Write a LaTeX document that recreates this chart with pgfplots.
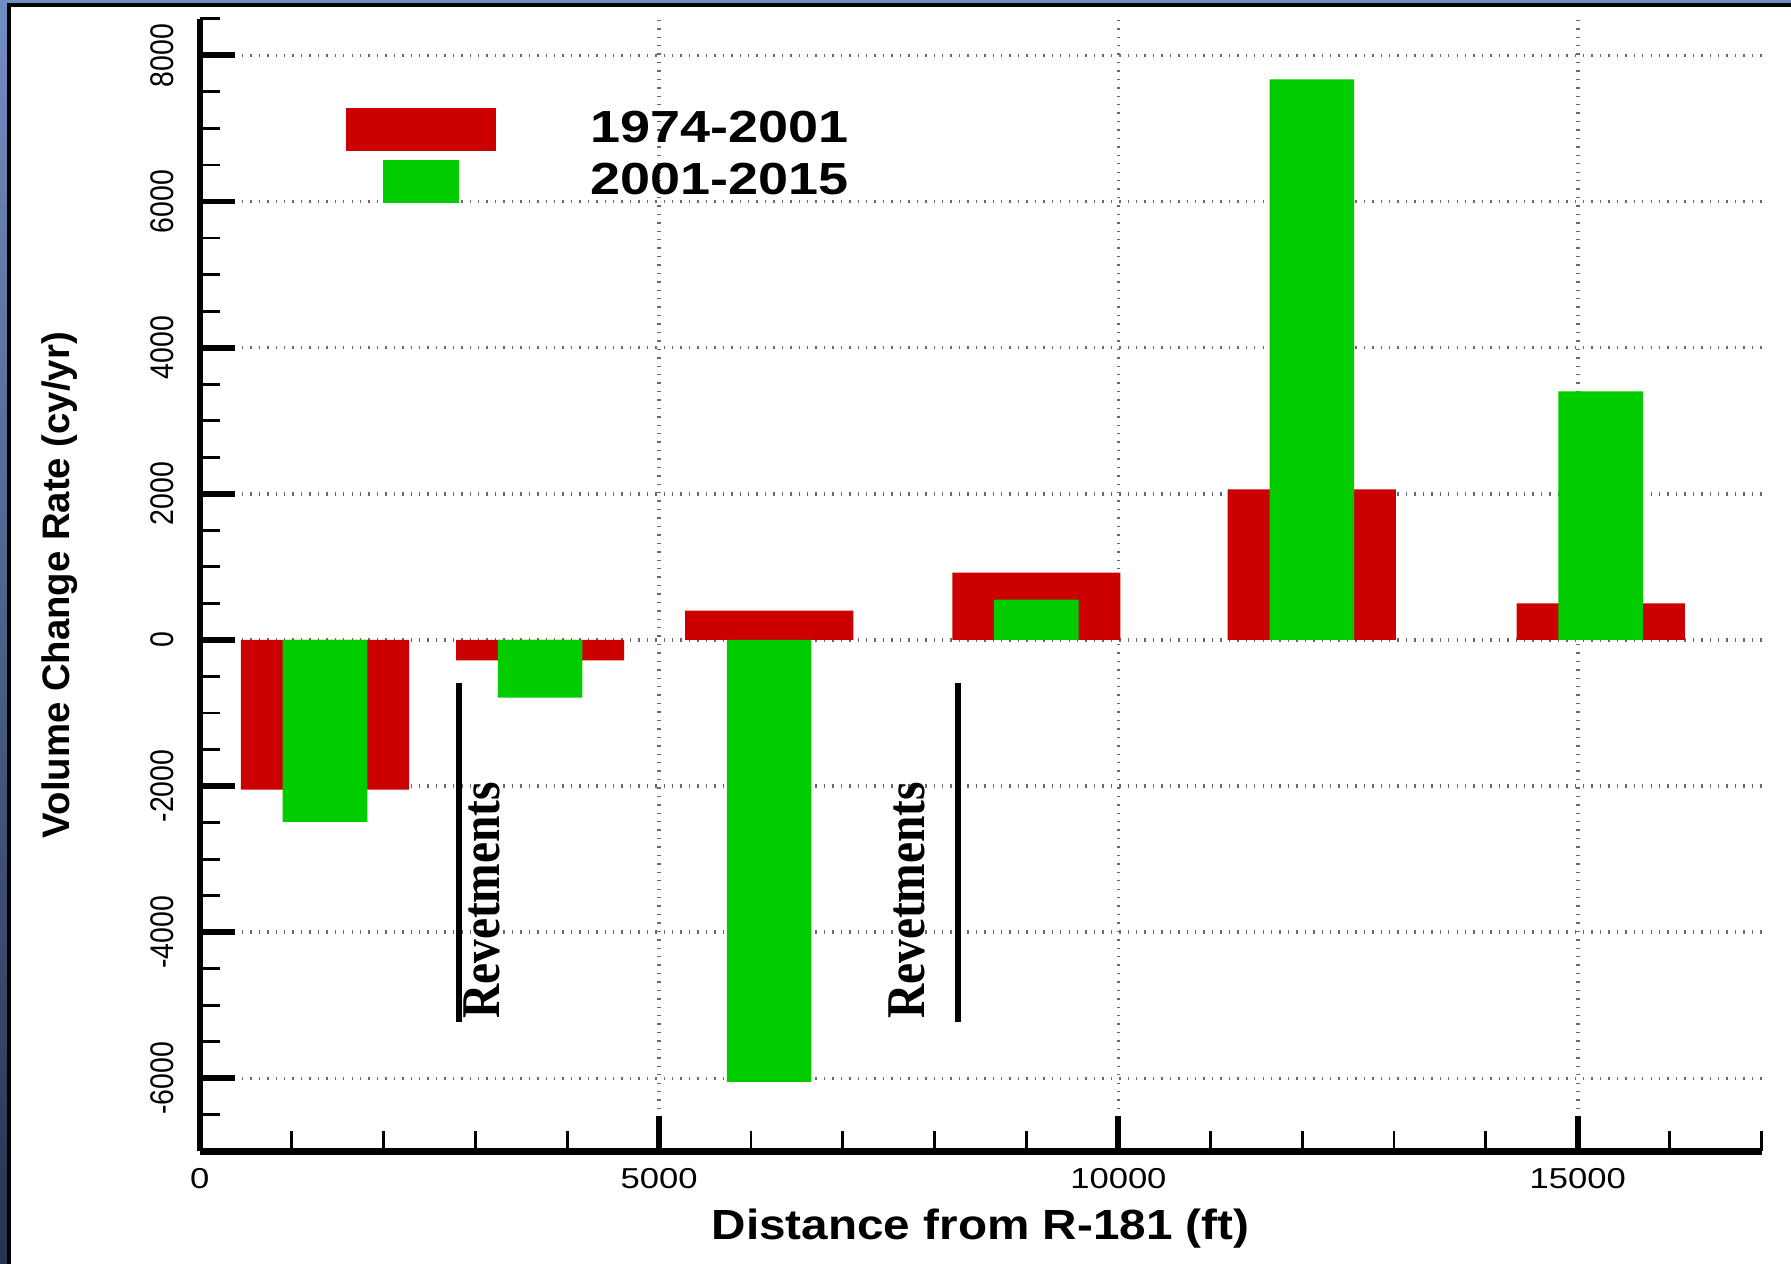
\documentclass[border=0pt]{standalone}
\usepackage{pgfplots}
\pgfplotsset{compat=1.18}
\usepackage{fontspec}
\setmainfont{Liberation Sans}
\newfontfamily\revfont{Liberation Serif}
\usepackage{graphicx}

\definecolor{barred}{RGB}{204,0,0}
\definecolor{bargreen}{RGB}{0,204,0}
\definecolor{gridgray}{RGB}{105,105,105}
\definecolor{slidetop}{RGB}{112,142,192}
\definecolor{slidebot}{RGB}{38,52,82}

% horizontally widened labels and rotated (thickened) labels
\newcommand{\xt}[1]{\scalebox{1.2}[1]{#1}}
\newcommand{\yt}[1]{\rotatebox{90}{\scalebox{1}[1.15]{#1}}}

\begin{document}
\begin{tikzpicture}
\path[use as bounding box] (-19.97mm,-11.26mm) rectangle (159.13mm,115.14mm);
% slide background and frame
\shade[top color=slidetop,bottom color=slidebot] (-19.97mm,-11.26mm) rectangle (159.13mm,115.14mm);
\fill[black] (-19.27mm,-11.26mm) rectangle (159.13mm,114.84mm);
\fill[white] (-18.82mm,-11.26mm) rectangle (159.13mm,114.44mm);

\begin{axis}[
  at={(0,0)}, anchor=south west,
  scale only axis, width=156.18mm, height=113.26mm,
  xmin=0, xmax=17000, ymin=-7000, ymax=8500,
  scaled ticks=false,
  axis x line*=bottom, axis y line*=left,
  axis line style={line width=1.8pt},
  tick align=inside,
  major tick length=3.5mm, minor tick length=2mm,
  major tick style={line width=1.7pt, black},
  minor tick style={line width=0.8pt, black},
  xtick={0,5000,10000,15000},
  xticklabels={\xt{0},\xt{5000},\xt{10000},\xt{15000}},
  minor xtick={1000,2000,3000,4000,6000,7000,8000,9000,11000,12000,13000,14000,16000,17000},
  ytick={-6000,-4000,-2000,0,2000,4000,6000,8000},
  yticklabels={\yt{-6000},\yt{-4000},\yt{-2000},\yt{0},\yt{2000},\yt{4000},\yt{6000},\yt{8000}},
  minor ytick={-6500,-5500,-5000,-4500,-3500,-3000,-2500,-1500,-1000,-500,500,1000,1500,2500,3000,3500,4500,5000,5500,6500,7000,7500,8500},
  grid=major,
  major grid style={dotted, line width=1pt, gridgray},
  xticklabel style={font=\fontsize{8.2}{9}\selectfont, anchor=north, inner sep=0pt, yshift=-1.67mm},
  yticklabel style={font=\fontsize{8.1}{9}\selectfont, anchor=east, inner sep=0pt, xshift=-2.47mm},
  xlabel={\scalebox{1.13}[1]{Distance from R-181 (ft)}},
  xlabel style={font=\bfseries\fontsize{12}{14}\selectfont, at={(axis description cs:0.5,0)}, anchor=base, inner sep=0pt, yshift=-8.8mm},
  ylabel={Volume Change Rate (cy/yr)},
  ylabel style={font=\bfseries\fontsize{10.9}{13}\selectfont, at={(axis description cs:-0.08305,0.5)}, anchor=base, inner sep=0pt},
  legend cell align=left,
  legend style={at={(axis description cs:0.0940,0.9210)}, anchor=north west, draw=none, fill=none,
    inner sep=0pt, outer sep=0pt, row sep=0.94mm, column sep=9.44mm,
    font=\bfseries\fontsize{12.8}{14}\selectfont, nodes={inner sep=0pt}},
  clip=false,
]
% 1974-2001 volume change rates
\addplot[ybar, bar width=1830, bar shift=0pt, fill=barred, draw=none,
  legend image code/.code={\fill[barred] (-7.475mm,-2.135mm) rectangle (7.475mm,2.135mm);}]
  coordinates {(1364,-2050) (3706,-280) (6199,400) (9107,920) (12105,2060) (15250,500)};
\addlegendentry{\xt{1974-2001}}
% 2001-2015 volume change rates
\addplot[ybar, bar width=920, bar shift=0pt, fill=bargreen, draw=none,
  legend image code/.code={\fill[bargreen] (-3.79mm,-2.12mm) rectangle (3.79mm,2.12mm);}]
  coordinates {(1364,-2490) (3706,-790) (6199,-6050) (9107,550) (12105,7670) (15250,3400)};
\addlegendentry{\xt{2001-2015}}

% revetment annotations
\draw[line width=1.7pt] (axis cs:2822,-590) -- (axis cs:2822,-5230);
\draw[line width=1.7pt] (axis cs:8252,-590) -- (axis cs:8252,-5230);
\node[anchor=south west, inner sep=0pt, font=\revfont\bfseries\fontsize{13.5}{15}\selectfont]
  at (axis cs:2866,-5197) {\rotatebox{90}{\scalebox{1}[1.15]{Revetments}}};
\node[anchor=south west, inner sep=0pt, font=\revfont\bfseries\fontsize{13.5}{15}\selectfont]
  at (axis cs:7495,-5197) {\rotatebox{90}{\scalebox{1}[1.15]{Revetments}}};
\end{axis}
\end{tikzpicture}
\end{document}
